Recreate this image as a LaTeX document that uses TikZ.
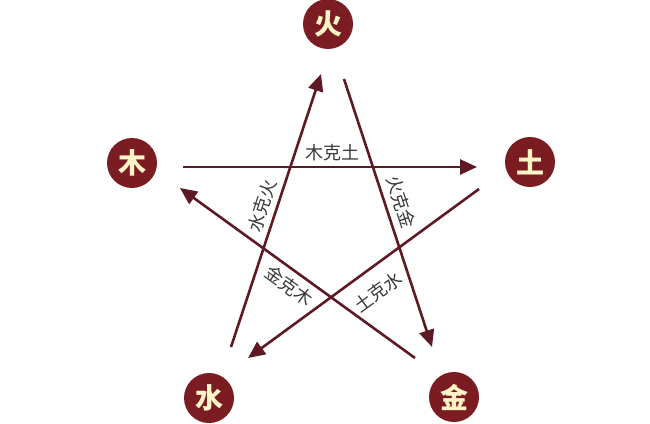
\documentclass[tikz,border=0pt]{standalone}
\usepackage{fontspec}
\newfontfamily\cjk{Noto Sans CJK SC}
\usetikzlibrary{arrows.meta}
\definecolor{circred}{HTML}{7A1C22}
\definecolor{linered}{HTML}{5E1A24}
\definecolor{cream}{HTML}{FFF4C8}
\definecolor{textgray}{HTML}{383838}
\tikzstyle{element} = [circle, minimum size=50pt, inner sep=0pt, fill=circred, text=cream, font=\cjk\bfseries\fontsize{28}{28}\selectfont]
\tikzstyle{arrow} = [line width=2.6pt, draw=linered, -{Triangle[length=17pt,width=15pt]}]
\tikzstyle{ke} = [text=textgray, inner sep=0pt, font=\cjk\fontsize{18}{18}\selectfont]

\begin{document}
\begin{tikzpicture}[x=1pt,y=-1pt]
\useasboundingbox (0,0) rectangle (650,423);

\node (huo) [element] at (328,24) {火};
\node (tu) [element] at (530,162) {土};
\node (jin) [element] at (454,397) {金};
\node (shui) [element] at (209,398) {水};
\node (mu) [element] at (132,163) {木};

\coordinate (mu-out) at (183,167);
\coordinate (tu-in) at (477,167);
\coordinate (jin-out) at (415,358);
\coordinate (mu-in) at (180,188);
\coordinate (shui-out) at (231,347);
\coordinate (huo-in) at (321,74);
\coordinate (huo-out) at (344,79);
\coordinate (jin-in) at (432,347);
\coordinate (tu-out) at (479,189);
\coordinate (shui-in) at (248,358);

\draw [arrow] (mu-out) -- (tu-in);
\draw [arrow] (jin-out) -- (mu-in);
\draw [arrow] (shui-out) -- (huo-in);
\draw [arrow] (huo-out) -- (jin-in);
\draw [arrow] (tu-out) -- (shui-in);

\node (mu-tu) [ke] at (332,153) {木克土};
\node (shui-huo) [ke, rotate=72] at (262,206) {水克火};
\node (huo-jin) [ke, rotate=-72] at (401,202) {火克金};
\node (jin-mu) [ke, rotate=-36] at (289,286) {金克木};
\node (tu-shui) [ke, rotate=36] at (378,292) {土克水};

\end{tikzpicture}
\end{document}
